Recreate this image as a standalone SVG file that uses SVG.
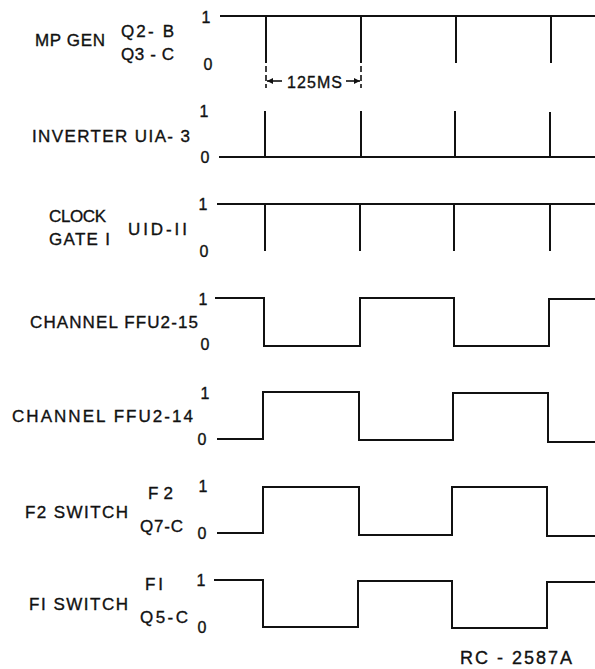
<svg xmlns="http://www.w3.org/2000/svg" width="595" height="669" viewBox="0 0 595 669">
<defs>
<style>
.t{font-family:"Liberation Sans","DejaVu Sans",sans-serif;font-size:17px;fill:#111;stroke:#111;stroke-width:0.35}
.lv{font-family:"Liberation Sans","DejaVu Sans",sans-serif;font-size:16px;fill:#111;stroke:#111;stroke-width:0.35;text-anchor:middle}
.w{fill:none;stroke:#111;stroke-width:2;stroke-linejoin:miter;stroke-linecap:butt}
.ext{fill:none;stroke:#111;stroke-width:1.6;stroke-dasharray:6,3}
.dim{fill:none;stroke:#111;stroke-width:1.6}
</style>
<marker id="ah" viewBox="0 0 10 10" refX="10" refY="5" markerWidth="8" markerHeight="6" orient="auto-start-reverse" markerUnits="userSpaceOnUse">
<path d="M0,0 L10,5 L0,10 Z" fill="#111"/>
</marker>
</defs>
<rect width="595" height="669" fill="#fff"/>

<g id="mp-gen">
<text class="t" x="35" y="46" textLength="70" lengthAdjust="spacing">MP GEN</text>
<text class="t" x="121" y="37" textLength="53" lengthAdjust="spacing">Q2- B</text>
<text class="t" x="121" y="60" textLength="53" lengthAdjust="spacing">Q3 - C</text>
<text class="lv" x="206" y="23">1</text>
<text class="lv" x="208" y="70">0</text>
<path class="w" d="M220,16 H595 M266,16 V63 M361,16 V63 M456,16 V63 M551,16 V63"/>
</g>

<g id="inverter">
<text class="t" x="32" y="142" textLength="158" lengthAdjust="spacing">INVERTER UIA- 3</text>
<text class="lv" x="204" y="117">1</text>
<text class="lv" x="205" y="163">0</text>
<path class="w" d="M219,157 H595 M265,157 V111 M361,157 V111 M455,157 V111 M550,157 V112"/>
</g>

<g id="clock-gate">
<text class="t" x="49" y="222" textLength="57" lengthAdjust="spacing">CLOCK</text>
<text class="t" x="49" y="245" textLength="61" lengthAdjust="spacing">GATE I</text>
<text class="t" x="128" y="235" textLength="59" lengthAdjust="spacing">UID-II</text>
<text class="lv" x="203" y="210">1</text>
<text class="lv" x="204" y="257">0</text>
<path class="w" d="M217,204 H595 M265,204 V251 M360,204 V251 M454,204 V251 M550,204 V251"/>
</g>

<g id="channel-ffu2-15">
<text class="t" x="30" y="328" textLength="168" lengthAdjust="spacing">CHANNEL FFU2-15</text>
<text class="lv" x="203" y="305">1</text>
<text class="lv" x="205" y="350">0</text>
<path class="w" d="M215,298 H264 V346 H360 V298 H454 V346 H549 V299 H595"/>
</g>

<g id="channel-ffu2-14">
<text class="t" x="12" y="422" textLength="181" lengthAdjust="spacing">CHANNEL FFU2-14</text>
<text class="lv" x="205" y="399">1</text>
<text class="lv" x="202" y="445">0</text>
<path class="w" d="M217,439 H263 V392 H359 V440 H453 V393 H548 V442 H595"/>
</g>

<g id="f2-switch">
<text class="t" x="25" y="518" textLength="103" lengthAdjust="spacing">F2 SWITCH</text>
<text class="t" x="148" y="499" textLength="25" lengthAdjust="spacing">F2</text>
<text class="t" x="140" y="532" textLength="43" lengthAdjust="spacing">Q7-C</text>
<text class="lv" x="203" y="492">1</text>
<text class="lv" x="202" y="539">0</text>
<path class="w" d="M217,533 H263 V487 H359 V535 H452 V487 H547 V536 H595"/>
</g>

<g id="f1-switch">
<text class="t" x="29" y="610" textLength="99" lengthAdjust="spacing">FI SWITCH</text>
<text class="t" x="145" y="590" textLength="18" lengthAdjust="spacing">FI</text>
<text class="t" x="140" y="623" textLength="48" lengthAdjust="spacing">Q5-C</text>
<text class="lv" x="201" y="586">1</text>
<text class="lv" x="202" y="633">0</text>
<path class="w" d="M214,580 H263 V627 H358 V581 H452 V628 H547 V582 H595"/>
</g>

<g id="connectors">
<path class="ext" d="M266,66 V88 M361,66 V88"/>
<path class="dim" d="M282,81 H267" marker-end="url(#ah)"/>
<path class="dim" d="M346,81 H360" marker-end="url(#ah)"/>
<text class="t" x="287" y="88" style="font-size:16px" textLength="55" lengthAdjust="spacing">125MS</text>
</g>

<g id="ref-number">
<text class="t" x="460" y="664" style="font-size:18px" textLength="112" lengthAdjust="spacing">RC - 2587A</text>
</g>
</svg>
